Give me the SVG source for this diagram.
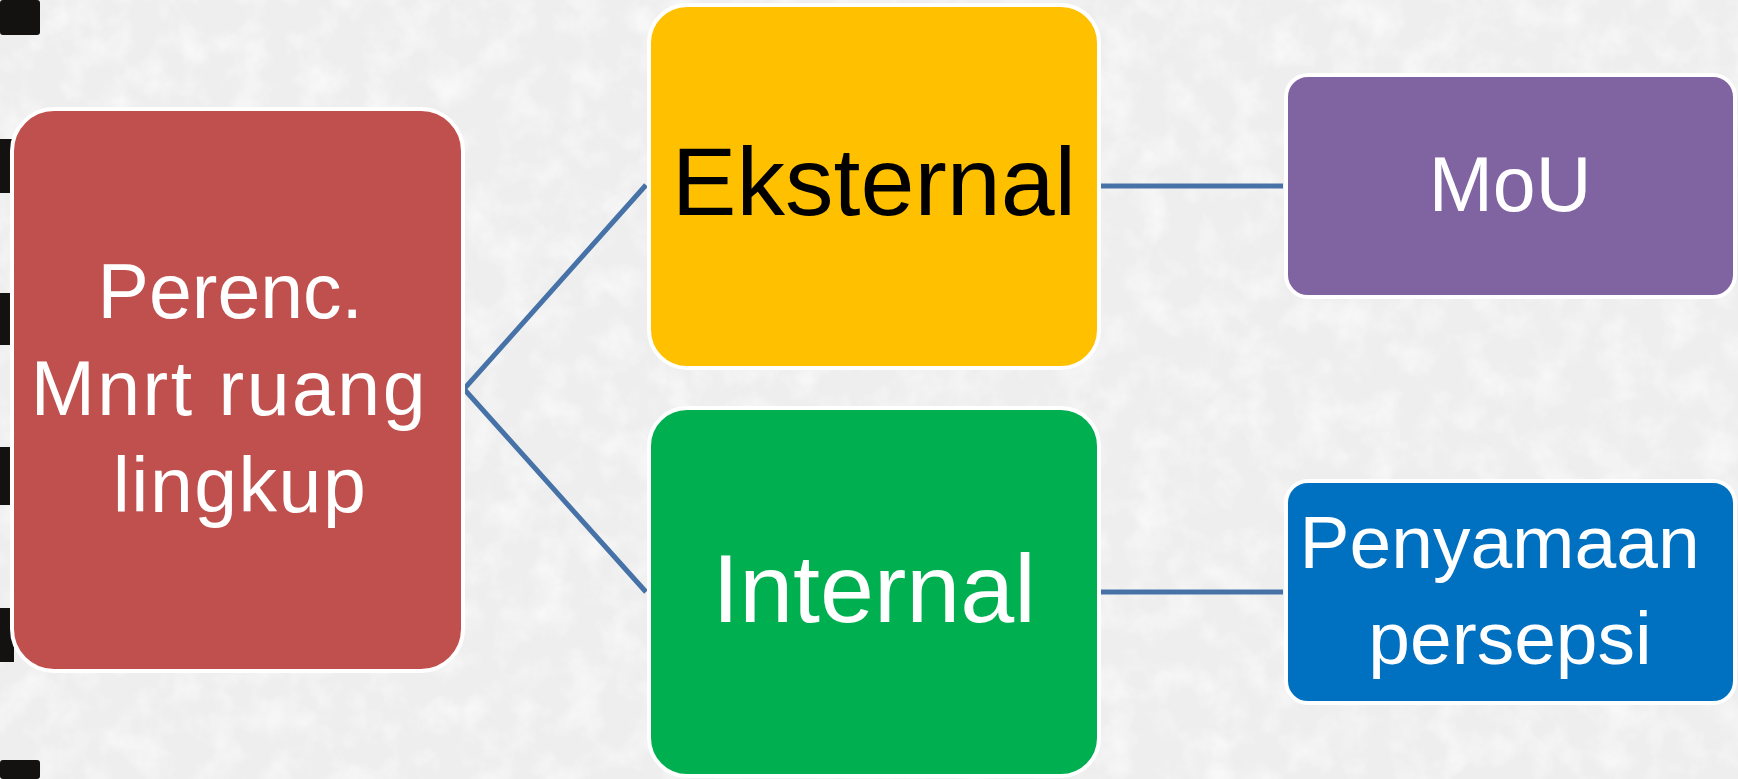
<svg xmlns="http://www.w3.org/2000/svg" width="1738" height="779" viewBox="0 0 1738 779">
  <defs>
    <filter id="grain" x="0" y="0" width="100%" height="100%">
      <feTurbulence type="fractalNoise" baseFrequency="0.03" numOctaves="4" seed="4" result="n"/>
      <feColorMatrix in="n" type="matrix" values="0 0 0 0 1  0 0 0 0 1  0 0 0 0 1  0 0 0 1.3 -0.55"/>
    </filter>
    <style>
      .box { stroke: #ffffff; stroke-width: 4; }
      .lbl { font-family: "Liberation Sans", Arial, sans-serif; text-anchor: middle; }
      .conn { stroke: #4672A8; stroke-width: 5; fill: none; stroke-linecap: butt; stroke-linejoin: miter; }
      .bind { fill: #141210; }
    </style>
  </defs>

  <rect x="0" y="0" width="1738" height="779" fill="#eeeeee"/>
  <rect x="0" y="0" width="1738" height="779" fill="#ffffff" filter="url(#grain)"/>

  <g id="binding">
    <rect class="bind" x="0" y="0" width="40" height="35" rx="3"/>
    <rect class="bind" x="0" y="139" width="14" height="54"/>
    <rect class="bind" x="0" y="293" width="14" height="52"/>
    <rect class="bind" x="0" y="447" width="14" height="58"/>
    <rect class="bind" x="0" y="608" width="14" height="54"/>
    <rect class="bind" x="0" y="760" width="40" height="19" rx="3"/>
  </g>

  <g id="connectors">
    <polyline class="conn" points="646,185 464,389 646,592"/>
    <line class="conn" x1="1101" y1="186" x2="1283" y2="186"/>
    <line class="conn" x1="1101" y1="592" x2="1283" y2="592"/>
  </g>

  <g id="node-perenc">
    <rect class="box" x="12" y="109" width="451" height="562" rx="42" fill="#C0504D"/>
    <text class="lbl" fill="#ffffff" font-size="77">
      <tspan x="241" y="318">Perenc.</tspan>
      <tspan x="240" y="415" letter-spacing="2.5">Mnrt ruang</tspan>
      <tspan x="240" y="512" letter-spacing="1.5">lingkup</tspan>
    </text>
  </g>

  <g id="node-eksternal">
    <rect class="box" x="649" y="5" width="450" height="363" rx="38" fill="#FFC000"/>
    <text class="lbl" fill="#000000" font-size="97" x="874" y="215">Eksternal</text>
  </g>

  <g id="node-internal">
    <rect class="box" x="649" y="408" width="450" height="368" rx="38" fill="#00B050"/>
    <text class="lbl" fill="#ffffff" font-size="97" x="874" y="622">Internal</text>
  </g>

  <g id="node-mou">
    <rect class="box" x="1286" y="75" width="449" height="222" rx="22" fill="#8064A2"/>
    <text class="lbl" fill="#ffffff" font-size="77" x="1510" y="211">MoU</text>
  </g>

  <g id="node-penyamaan">
    <rect class="box" x="1286" y="481" width="449" height="222" rx="22" fill="#0070C0"/>
    <text class="lbl" fill="#ffffff" font-size="75">
      <tspan x="1510" y="568">Penyamaan</tspan>
      <tspan x="1510" y="664">persepsi</tspan>
    </text>
  </g>
</svg>
